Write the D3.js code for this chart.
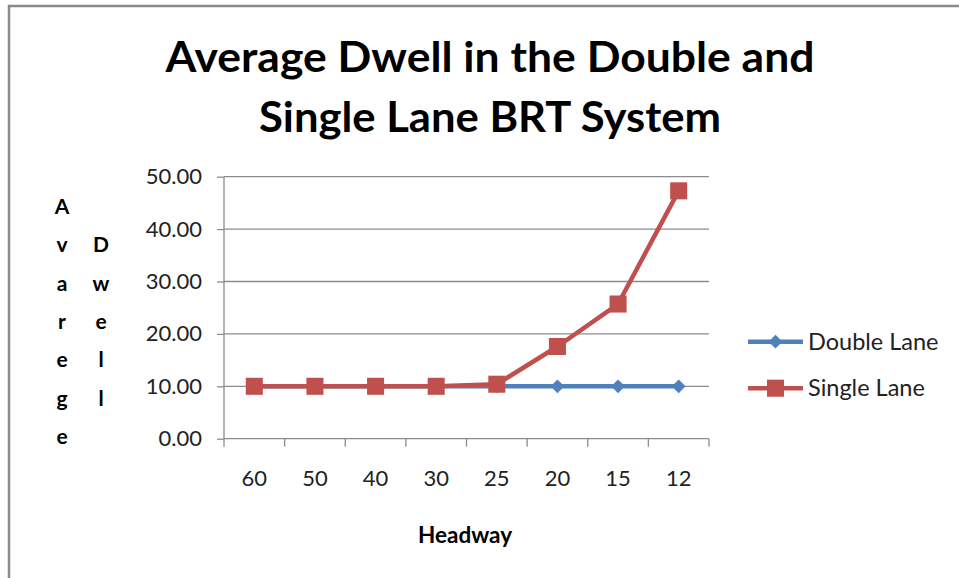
<!DOCTYPE html>
<html>
<head>
<meta charset="utf-8">
<script src="https://cdn.jsdelivr.net/npm/d3@7"></script>
<style>
  body { margin: 0; background: #fff; }
  svg { display: block; font-family: Lato, 'Open Sans', sans-serif; }
  .grid line { stroke: #8c8c8c; stroke-width: 1.3; }
  .axis path, .axis line { stroke: #8c8c8c; stroke-width: 1.3; }
  .axis text { fill: #222; font-size: 22px; font-family: Lato, sans-serif; }
</style>
</head>
<body>
<div id="chart"></div>
<script>
const headways = ['60', '50', '40', '30', '25', '20', '15', '12'];
const doubleLane = [10, 10, 10, 10, 10, 10, 10, 10];
const singleLane = [10, 10, 10, 10, 10.4, 17.6, 25.7, 47.3];
const yTicks = [0, 10, 20, 30, 40, 50];
const seriesNames = ['Double Lane', 'Single Lane'];
const colors = ['#4f81bd', '#c0504d'];

const width = 959;
const height = 578;
const plot = {left: 224, top: 176.7, right: 709, bottom: 438.7};

const svg = d3.select('#chart')
      .append('svg')
      .attr('width', width)
      .attr('height', height);

// chart border (right and bottom edges fall outside the picture)
svg.append('rect')
  .attr('x', 9)
  .attr('y', 6)
  .attr('width', 1000)
  .attr('height', 1000)
  .attr('fill', 'none')
  .attr('stroke', '#8a8a8a')
  .attr('stroke-width', 2.5);

const xScale = d3.scaleBand()
      .domain(headways)
      .range([plot.left, plot.right]);
const yScale = d3.scaleLinear()
      .domain([0, 50])
      .range([plot.bottom, plot.top]);

// Grid
svg.append('g')
  .attr('class', 'grid')
  .selectAll('line')
  .data(yTicks.slice(1))
  .enter().append('line')
  .attr('x1', plot.left)
  .attr('x2', plot.right)
  .attr('y1', d => yScale(d))
  .attr('y2', d => yScale(d));

// Axes
svg.append('g')
  .attr('class', 'y axis')
  .attr('transform', `translate(${plot.left},0)`)
  .call(d3.axisLeft(yScale).tickValues(yTicks).tickSize(7).tickPadding(15)
        .tickFormat(d3.format('.2f')))
  .call(g => g.attr('font-family', null).attr('font-size', null))
  .call(g => g.select('.domain').attr('d', `M0,${plot.top}V${plot.bottom}`));

svg.append('g')
  .attr('class', 'x axis')
  .attr('transform', `translate(0,${plot.bottom})`)
  .call(d3.axisBottom(xScale).tickSize(0).tickPadding(32))
  .call(g => g.attr('font-family', null).attr('font-size', null))
  .call(g => g.select('.domain').attr('d', `M${plot.left},0H${plot.right}`));

// x ticks sit between categories
svg.append('g')
  .attr('class', 'axis')
  .selectAll('line')
  .data(headways.concat(['end']))
  .enter().append('line')
  .attr('x1', (d, i) => plot.left + i * xScale.step())
  .attr('x2', (d, i) => plot.left + i * xScale.step())
  .attr('y1', plot.bottom)
  .attr('y2', plot.bottom + 8);

const cx = d => xScale(d) + xScale.bandwidth() / 2;
const line = d3.line();
const marker = i => d3.symbol()
      .type(i === 0 ? d3.symbolDiamond2 : d3.symbolSquare2)
      .size(i === 0 ? 120 : 370);

const series = [doubleLane, singleLane];
series.forEach((vals, i) => {
  const pts = vals.map((v, j) => [cx(headways[j]), yScale(v)]);
  svg.append('path')
    .attr('d', line(pts))
    .attr('fill', 'none')
    .attr('stroke', colors[i])
    .attr('stroke-width', 4.5)
    .attr('stroke-linejoin', 'round');
  svg.append('g')
    .selectAll('path')
    .data(pts)
    .enter().append('path')
    .attr('d', marker(i))
    .attr('transform', d => `translate(${d[0]},${d[1]})`)
    .attr('fill', colors[i]);
});

// Legend
const legend = svg.append('g')
      .selectAll('g')
      .data(seriesNames)
      .enter().append('g')
      .attr('transform', (_, i) => `translate(748,${341.7 + i * 46.5})`);
legend.append('line')
  .attr('x2', 55)
  .attr('stroke', (_, i) => colors[i])
  .attr('stroke-width', 4.5);
legend.append('path')
  .attr('d', (_, i) => marker(i)())
  .attr('transform', 'translate(27.5,0)')
  .attr('fill', (_, i) => colors[i]);
legend.append('text')
  .attr('x', 60)
  .attr('dy', '.35em')
  .style('font-size', '23.5px')
  .attr('fill', '#222')
  .text(d => d);

// Title
const titleLines = [
  {text: 'Average Dwell in the Double and', y: 71.7, len: 649},
  {text: 'Single Lane BRT System', y: 131.7, len: 462}
];
svg.append('g')
  .selectAll('text')
  .data(titleLines)
  .enter().append('text')
  .attr('x', 490)
  .attr('y', d => d.y)
  .attr('text-anchor', 'middle')
  .attr('textLength', d => d.len)
  .attr('lengthAdjust', 'spacingAndGlyphs')
  .style('font-size', '42px')
  .style('font-weight', 'bold')
  .attr('fill', '#000')
  .text(d => d.text);

// Vertical y-axis title, one letter per row
const yTitle = [
  {word: 'Avarege', x: 62, y0: 206.7},
  {word: 'Dwell', x: 101, y0: 245}
];
yTitle.forEach(t => {
  svg.append('g')
    .selectAll('text')
    .data(t.word.split(''))
    .enter().append('text')
    .attr('x', t.x)
    .attr('y', (_, i) => t.y0 + i * 38.3)
    .attr('dy', '.35em')
    .attr('text-anchor', 'middle')
    .style('font-size', '21px')
    .style('font-weight', 'bold')
    .attr('fill', '#000')
    .text(d => d);
});

// x-axis title
svg.append('text')
  .attr('x', 465)
  .attr('y', 535)
  .attr('dy', '.35em')
  .attr('text-anchor', 'middle')
  .style('font-size', '22.5px')
  .style('font-weight', 'bold')
  .attr('fill', '#000')
  .text('Headway');
</script>
</body>
</html>
